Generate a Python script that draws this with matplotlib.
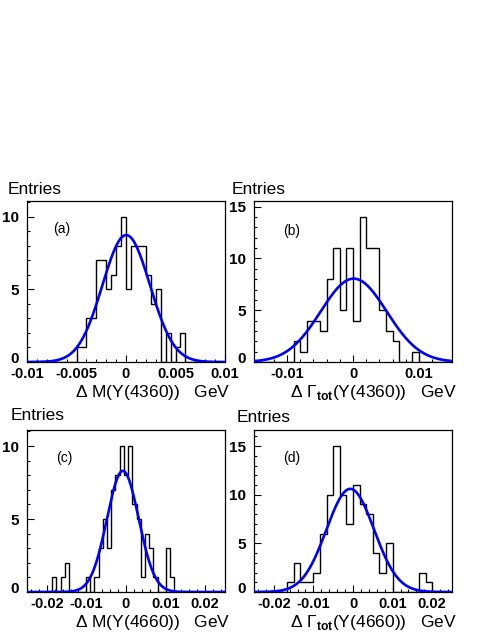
import numpy as np
import matplotlib
matplotlib.use("Agg")
import matplotlib.pyplot as plt
from matplotlib.ticker import MultipleLocator, FuncFormatter

plt.rcParams['font.family'] = ['Liberation Sans', 'DejaVu Sans']
plt.rcParams['mathtext.fontset'] = 'custom'
plt.rcParams['mathtext.rm'] = 'Liberation Sans'
plt.rcParams['mathtext.bf'] = 'Liberation Sans:bold'

# bin contents
counts_a = [0, 0, 0, 0, 0, 0, 0, 0, 0, 0,
            1, 1, 3, 3, 7, 7, 5, 6, 8, 10,
            5, 8, 8, 8, 6, 4, 5, 0, 2, 0,
            1, 2, 0, 0, 0, 0, 0, 0, 0, 0]
counts_b = [0, 0, 0, 0, 0, 0, 2, 1, 4, 4,
            3, 8, 11, 5, 11, 4, 14, 11, 11, 5,
            3, 2, 0, 0, 1, 0, 0, 0, 0, 0]
counts_c = [0, 0, 0, 0, 0, 0, 1, 0, 1, 2,
            0, 0, 0, 0, 1, 0, 1, 3, 5, 3,
            7, 8, 10, 8, 10, 6, 5, 1, 4, 3,
            1, 0, 0, 3, 1, 0, 0, 0, 0, 0,
            0, 0, 0, 0, 0, 0, 0]
counts_d = [0, 0, 0, 0, 0, 1, 3, 1, 1, 2,
            6, 10, 15, 10, 7, 11, 9, 8, 4, 2,
            5, 0, 0, 0, 0, 2, 1, 0, 0, 0]

# histogram ranges (low, high)
range_a = (-0.01, 0.01)
range_b = (-0.015, 0.015)
range_c = (-0.025, 0.025)
range_d = (-0.025, 0.025)

# gaussian fit: amplitude, mean, sigma
fit_a = (8.75, 0.00002, 0.0024)
fit_b = (8.05, 0.0001, 0.0050)
fit_c = (8.3, -0.0008, 0.0040)
fit_d = (10.6, -0.0007, 0.0060)

ymax = [11.1, 15.55, 11.1, 16.65]
tags = ['(a)', '(b)', '(c)', '(d)']
xlabels = [r'$\Delta$ M(Y(4360))   GeV',
           r'$\Delta$ $\Gamma_{\mathbf{tot}}$(Y(4360))   GeV',
           r'$\Delta$ M(Y(4660))   GeV',
           r'$\Delta$ $\Gamma_{\mathbf{tot}}$(Y(4660))   GeV']
xmajor = [0.005, 0.01, 0.01, 0.01]
xminor = [0.001, 0.002, 0.002, 0.002]

W, H = 491, 635
fig = plt.figure(figsize=(W / 100, H / 100), dpi=100)

# axes boxes in pixels: left, top, right, bottom
boxes = [(27, 201, 225, 362), (254, 201, 452, 362),
         (27, 430, 225, 592), (254, 430, 452, 592)]
entries_xy = [(8, 189), (232, 189), (11, 416), (237, 417)]
tag_xy = [(62, 229), (292, 231), (64, 458), (292, 458)]

hists = [counts_a, counts_b, counts_c, counts_d]
ranges = [range_a, range_b, range_c, range_d]
fits = [fit_a, fit_b, fit_c, fit_d]

fmt = FuncFormatter(lambda v, p: '%g' % round(v, 6))
# the "0" on the y axis is written by hand, a bit higher, so it clears "-0.01"
yfmt = FuncFormatter(lambda v, p: '' if abs(v) < 1e-9 else '%g' % v)

for i in range(4):
    l, t, r, b = boxes[i]
    ax = fig.add_axes([l / W, 1 - b / H, (r - l) / W, (b - t) / H])
    cnt = np.array(hists[i])
    lo, hi = ranges[i]
    edges = np.linspace(lo, hi, len(cnt) + 1)
    ax.stairs(cnt, edges, color='black', lw=1.0, zorder=2)

    amp, mu, sig = fits[i]
    xs = np.linspace(lo, hi, 600)
    ax.plot(xs, amp * np.exp(-0.5 * ((xs - mu) / sig) ** 2),
            color='#0000ff', lw=1.9, zorder=3)

    ax.set_xlim(lo, hi)
    ax.set_ylim(0, ymax[i])
    ax.xaxis.set_major_locator(MultipleLocator(xmajor[i]))
    ax.xaxis.set_minor_locator(MultipleLocator(xminor[i]))
    ax.yaxis.set_major_locator(MultipleLocator(5))
    ax.yaxis.set_minor_locator(MultipleLocator(1))
    ax.xaxis.set_major_formatter(fmt)
    ax.yaxis.set_major_formatter(yfmt)
    ax.tick_params(which='both', direction='in', top=False, right=False,
                   width=0.8, color='black')
    ax.tick_params(which='major', length=5)
    ax.tick_params(which='minor', length=2.5)
    ax.tick_params(axis='x', pad=3.5, labelsize=10.5)
    ax.tick_params(axis='y', pad=6, labelsize=11)
    for lab in ax.get_xticklabels() + ax.get_yticklabels():
        lab.set_fontweight('bold')
    for s in ax.spines.values():
        s.set_linewidth(0.9)
    fig.text((l - 8) / W, 1 - (b - 3) / H, '0', ha='right', va='center',
             fontsize=11, fontweight='bold')

    # x title, right aligned at the end of the axis, just under the tick labels
    fig.text((r + 5) / W, 1 - (b + 21) / H, xlabels[i],
             ha='right', va='top', fontsize=12.5)
    fig.text(entries_xy[i][0] / W, 1 - entries_xy[i][1] / H, 'Entries',
             ha='left', va='center', fontsize=12.5)
    fig.text(tag_xy[i][0] / W, 1 - tag_xy[i][1] / H, tags[i],
             ha='center', va='center', fontsize=10)

fig.savefig('out.png', dpi=100)
